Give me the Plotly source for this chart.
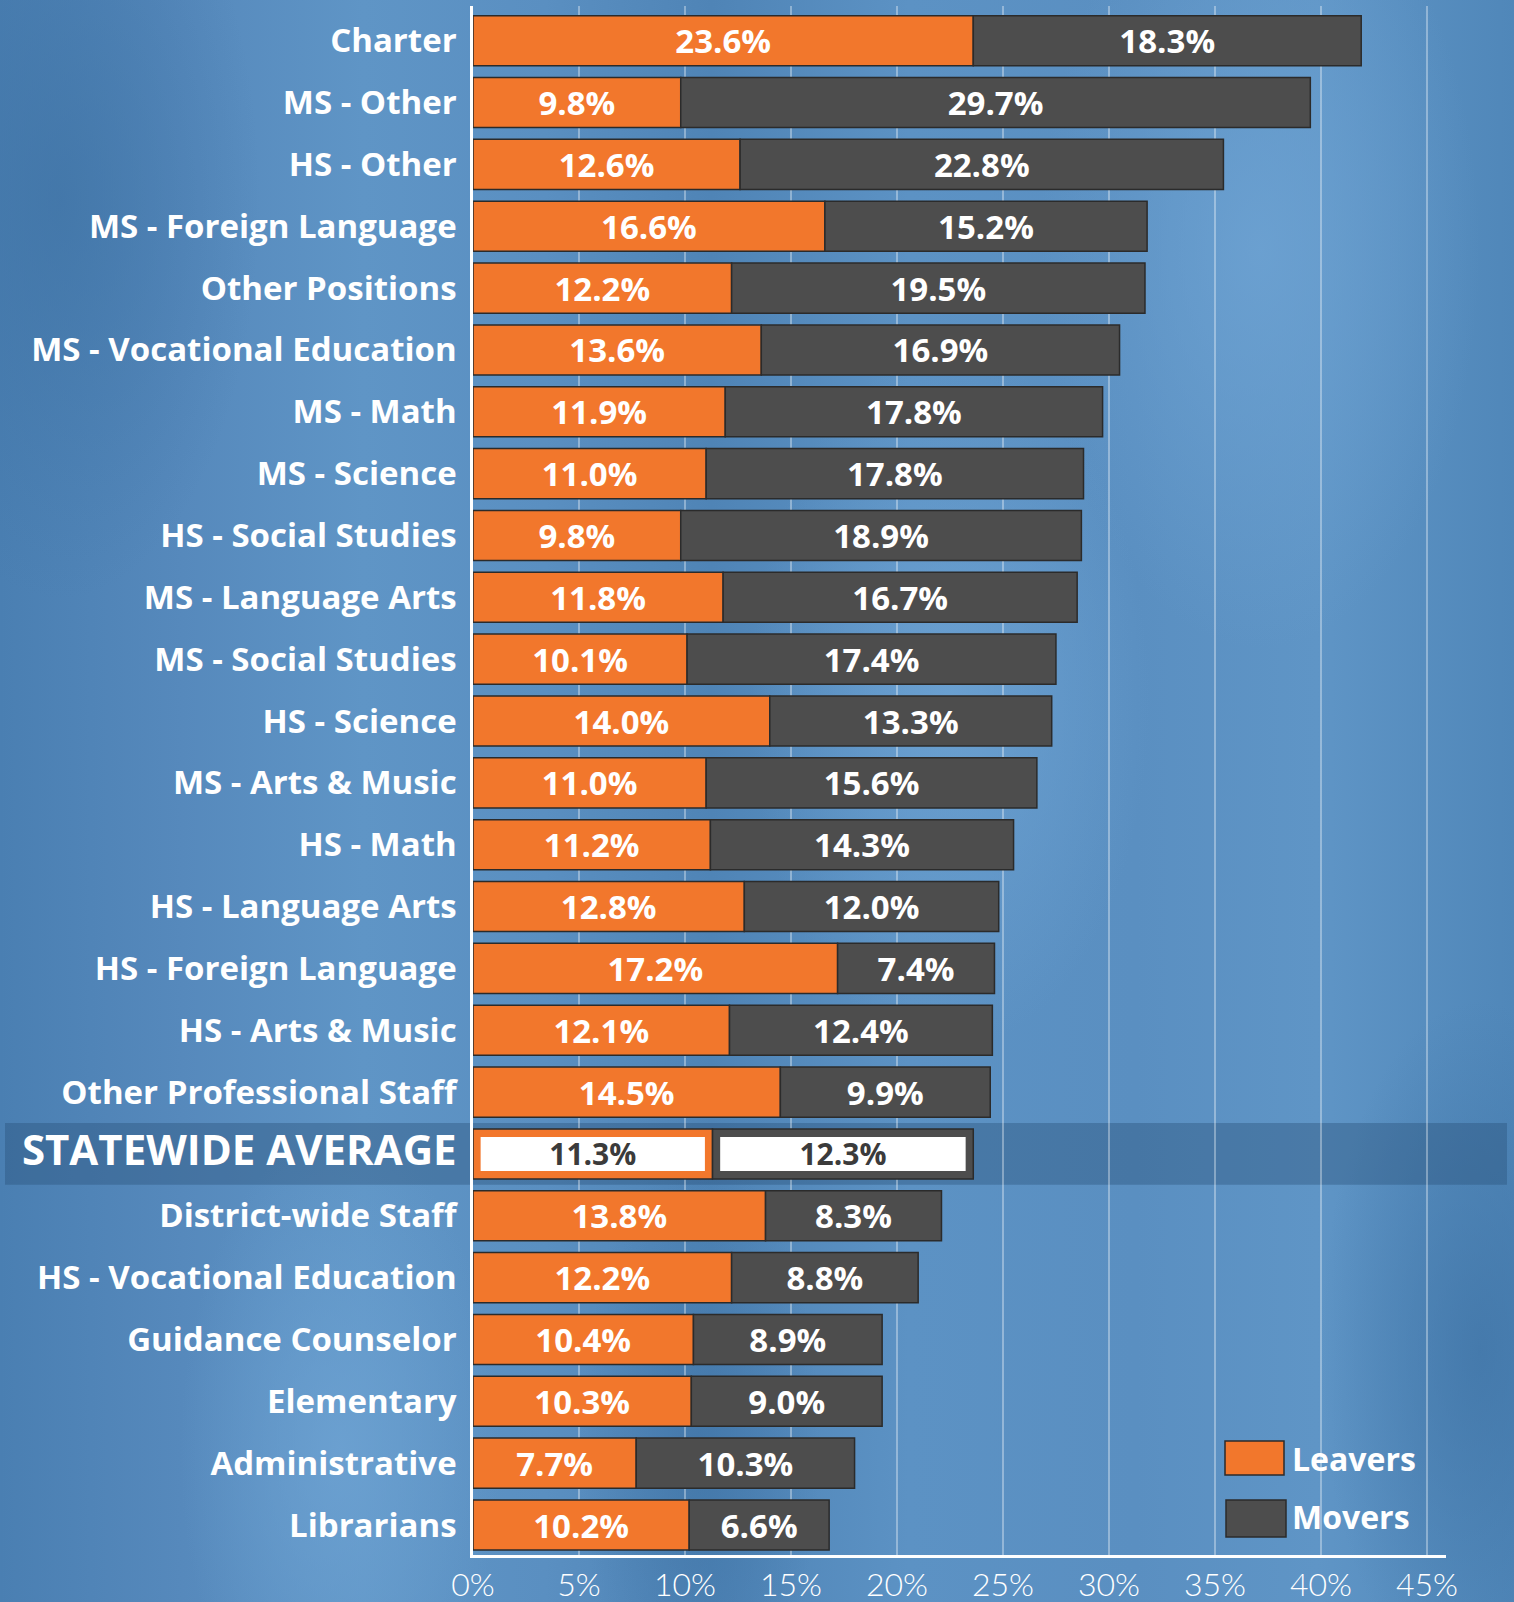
import base64
import plotly.graph_objects as go

categories = [
    "Charter", "MS - Other", "HS - Other", "MS - Foreign Language", "Other Positions",
    "MS - Vocational Education", "MS - Math", "MS - Science", "HS - Social Studies",
    "MS - Language Arts", "MS - Social Studies", "HS - Science", "MS - Arts & Music",
    "HS - Math", "HS - Language Arts", "HS - Foreign Language", "HS - Arts & Music",
    "Other Professional Staff", "STATEWIDE AVERAGE", "District-wide Staff",
    "HS - Vocational Education", "Guidance Counselor", "Elementary", "Administrative",
    "Librarians",
]
leavers = [23.6, 9.8, 12.6, 16.6, 12.2, 13.6, 11.9, 11.0, 9.8, 11.8, 10.1, 14.0, 11.0,
           11.2, 12.8, 17.2, 12.1, 14.5, 11.3, 13.8, 12.2, 10.4, 10.3, 7.7, 10.2]
movers = [18.3, 29.7, 22.8, 15.2, 19.5, 16.9, 17.8, 17.8, 18.9, 16.7, 17.4, 13.3, 15.6,
          14.3, 12.0, 7.4, 12.4, 9.9, 12.3, 8.3, 8.8, 8.9, 9.0, 10.3, 6.6]
x_ticks = [0, 5, 10, 15, 20, 25, 30, 35, 40, 45]
series_names = ["Leavers", "Movers"]

AVG = "STATEWIDE AVERAGE"
avg_i = categories.index(AVG)

ORANGE = "#f2772c"
GRAY = "#4d4d4d"
OUTLINE = "#2b2b2b"
FONT = "Open Sans"

# background texture (svg gradients)
svg = """<svg xmlns='http://www.w3.org/2000/svg' width='1514' height='1602' viewBox='0 0 1514 1602'>
<defs>
<linearGradient id='g' x1='0' y1='0' x2='1' y2='0'>
<stop offset='0' stop-color='#4a7fb2'/>
<stop offset='0.12' stop-color='#5689bc'/>
<stop offset='0.24' stop-color='#5f95c6'/>
<stop offset='0.36' stop-color='#5a8fc1'/>
<stop offset='0.47' stop-color='#4f84b6'/>
<stop offset='0.6' stop-color='#5c92c4'/>
<stop offset='0.75' stop-color='#5a8fc1'/>
<stop offset='0.87' stop-color='#5f95c6'/>
<stop offset='1' stop-color='#5087b9'/>
</linearGradient>
<radialGradient id='r1' cx='0.5' cy='0.5' r='0.5'>
<stop offset='0' stop-color='#6ea3d3' stop-opacity='0.8'/>
<stop offset='1' stop-color='#6ea3d3' stop-opacity='0'/>
</radialGradient>
<radialGradient id='r2' cx='0.5' cy='0.5' r='0.5'>
<stop offset='0' stop-color='#3f73a5' stop-opacity='0.7'/>
<stop offset='1' stop-color='#3f73a5' stop-opacity='0'/>
</radialGradient>
</defs>
<rect width='1514' height='1602' fill='url(#g)'/>
<ellipse cx='340' cy='1450' rx='160' ry='320' fill='url(#r1)'/>
<ellipse cx='700' cy='1450' rx='120' ry='300' fill='url(#r2)'/>
<ellipse cx='60' cy='200' rx='200' ry='400' fill='url(#r2)'/>
<ellipse cx='1260' cy='250' rx='220' ry='400' fill='url(#r1)'/>
<ellipse cx='1480' cy='1350' rx='160' ry='350' fill='url(#r2)'/>
<ellipse cx='950' cy='700' rx='200' ry='350' fill='url(#r1)'/>
</svg>"""
bg_uri = "data:image/svg+xml;base64," + base64.b64encode(svg.encode()).decode()

W, H = 1514, 1602
L, R, T, B = 473, 68, 6, 47
pw, ph = W - L - R, H - T - B
XMAX = 45.9

def fmt(v):
    return f"{v:.1f}%"

lv_text = ["" if c == AVG else fmt(v) for c, v in zip(categories, leavers)]
mv_text = ["" if c == AVG else fmt(v) for c, v in zip(categories, movers)]

BAR_W = 0.81
INSET_W = 0.55
INSET_X = 0.36
TXT = 33

fig = go.Figure()
fig.add_trace(go.Bar(
    name=series_names[0], y=categories, x=leavers, base=[0] * len(leavers),
    orientation="h", width=BAR_W, marker=dict(color=ORANGE, line=dict(color=OUTLINE, width=1.5)),
    text=lv_text, textposition="inside", insidetextanchor="middle", textangle=0,
    constraintext="none", textfont=dict(family=FONT, size=TXT, color="white", weight="bold"),
    showlegend=False,
))
fig.add_trace(go.Bar(
    name=series_names[1], y=categories, x=movers, base=leavers,
    orientation="h", width=BAR_W, marker=dict(color=GRAY, line=dict(color=OUTLINE, width=1.5)),
    text=mv_text, textposition="inside", insidetextanchor="middle", textangle=0,
    constraintext="none", textfont=dict(family=FONT, size=TXT, color="white", weight="bold"),
    showlegend=False,
))
# statewide average: outlined boxes with white fill
fig.add_trace(go.Bar(
    y=[AVG, AVG],
    x=[leavers[avg_i] - 2 * INSET_X, movers[avg_i] - 2 * INSET_X],
    base=[INSET_X, leavers[avg_i] + INSET_X],
    orientation="h", width=INSET_W, marker=dict(color="white", line=dict(width=0)),
    text=[fmt(leavers[avg_i]), fmt(movers[avg_i])], textposition="inside",
    insidetextanchor="middle", textangle=0, constraintext="none",
    textfont=dict(family=FONT, size=30, color="#3b3b3b", weight=700),
    showlegend=False, hoverinfo="skip",
))
fig.update_traces(selector=dict(type="bar"), cliponaxis=False)

ticktext = [f"<span style='font-size:42px'>{c}</span>" if c == AVG else c for c in categories]

shapes = [
    dict(type="rect", xref="paper", yref="y", x0=(5 - L) / pw, x1=(1507 - L) / pw,
         y0=avg_i - 0.5, y1=avg_i + 0.5, fillcolor="rgba(40,78,118,0.38)",
         line=dict(width=0), layer="below"),
    # legend swatches
    dict(type="rect", xref="paper", yref="paper", x0=(1225 - L) / pw, x1=(1284 - L) / pw,
         y0=(H - B - 1475) / ph, y1=(H - B - 1441) / ph, fillcolor=ORANGE,
         line=dict(color=OUTLINE, width=1.5)),
    dict(type="rect", xref="paper", yref="paper", x0=(1226 - L) / pw, x1=(1286 - L) / pw,
         y0=(H - B - 1537) / ph, y1=(H - B - 1500) / ph, fillcolor=GRAY,
         line=dict(color=OUTLINE, width=1.5)),
]
annotations = [
    dict(xref="paper", yref="paper", x=(1290 - L) / pw, y=(H - B - 1458) / ph,
         text=series_names[0], showarrow=False, xanchor="left", yanchor="middle",
         font=dict(family=FONT, size=32, color="white", weight="bold")),
    dict(xref="paper", yref="paper", x=(1290 - L) / pw, y=(H - B - 1516) / ph,
         text=series_names[1], showarrow=False, xanchor="left", yanchor="middle",
         font=dict(family=FONT, size=32, color="white", weight="bold")),
]

fig.update_layout(
    width=W, height=H,
    margin=dict(l=L, r=R, t=T, b=B),
    barmode="overlay",
    paper_bgcolor="#5a8fc1",
    plot_bgcolor="rgba(0,0,0,0)",
    showlegend=False,
    shapes=shapes,
    annotations=annotations,
    images=[dict(source=bg_uri, xref="paper", yref="paper", x=-L / pw, y=1 + T / ph,
                 sizex=W / pw, sizey=H / ph, sizing="stretch", xanchor="left",
                 yanchor="top", layer="below")],
    xaxis=dict(
        range=[0, XMAX], tickvals=x_ticks, ticktext=[f"{t}%" for t in x_ticks],
        showgrid=True, gridcolor="rgba(255,255,255,0.35)", gridwidth=2,
        zeroline=False, showline=True, linecolor="white", linewidth=3,
        tickfont=dict(family="Lato", size=32, color="white", weight=300),
        ticks="", fixedrange=True, automargin=False,
    ),
    yaxis=dict(
        type="category", categoryorder="array", categoryarray=categories,
        tickvals=categories, ticktext=ticktext,
        range=[24.485, -0.561], showgrid=False, zeroline=False,
        showline=True, linecolor="white", linewidth=2.5,
        ticks="outside", ticklen=7, tickcolor="rgba(0,0,0,0)",
        tickfont=dict(family=FONT, size=33, color="white", weight="bold"),
        fixedrange=True, automargin=False,
    ),
)

fig.write_html(
    "out.html",
    config={"displayModeBar": False},
    post_script="document.body.style.margin='0';document.body.style.overflow='hidden';",
)
